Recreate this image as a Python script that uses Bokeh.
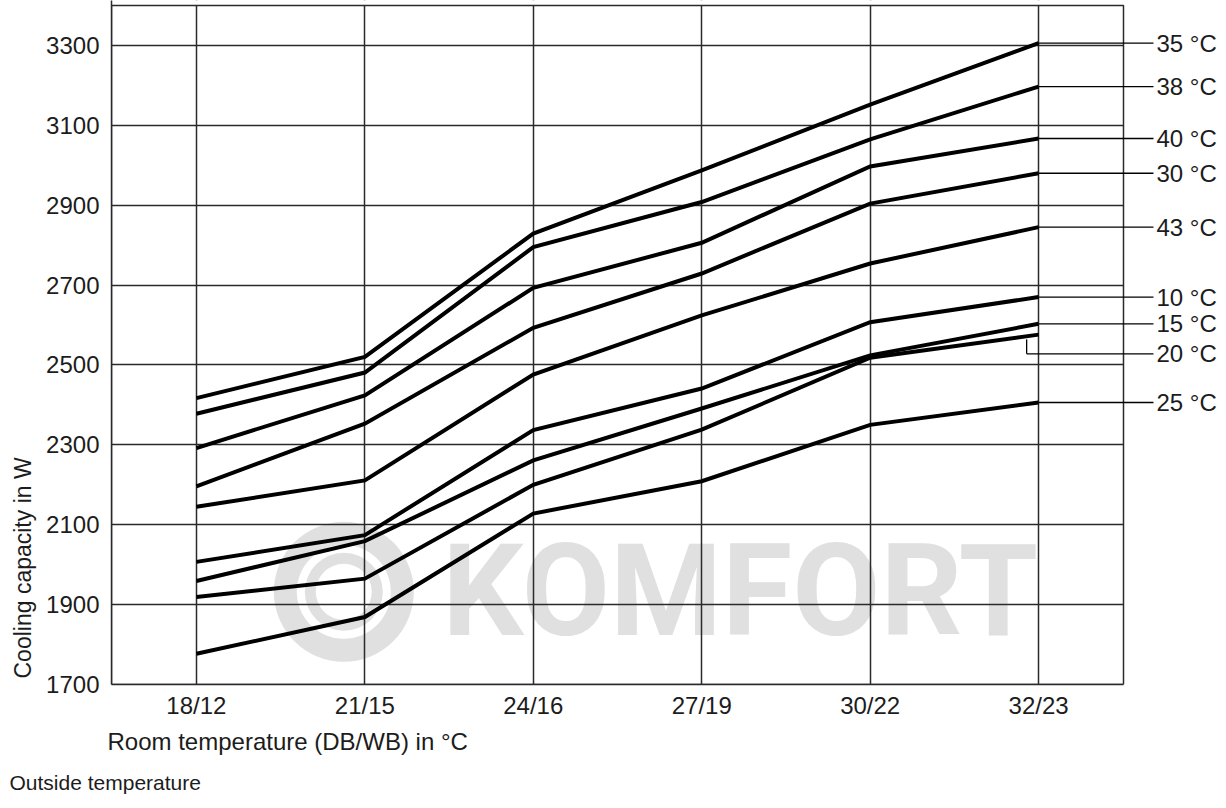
from bokeh.plotting import figure
from bokeh.models import Range1d, FixedTicker, Title, Label
from bokeh.core.properties import value
from bokeh.embed import file_html
from bokeh.resources import INLINE

# ---------------- data ----------------
CATEGORIES = ["18/12", "21/15", "24/16", "27/19", "30/22", "32/23"]
OUTSIDE_TEMPS = ["35 °C", "38 °C", "40 °C", "30 °C", "43 °C", "10 °C", "15 °C", "20 °C", "25 °C"]

CAP_35 = [2417, 2520, 2829, 2987, 3152, 3306]
CAP_38 = [2378, 2481, 2795, 2908, 3065, 3197]
CAP_40 = [2292, 2424, 2693, 2806, 2997, 3067]
CAP_30 = [2196, 2353, 2593, 2729, 2904, 2980]
CAP_43 = [2145, 2211, 2476, 2624, 2754, 2845]
CAP_10 = [2007, 2074, 2337, 2441, 2607, 2670]
CAP_15 = [1959, 2059, 2261, 2391, 2524, 2603]
CAP_20 = [1919, 1965, 2200, 2338, 2518, 2576]
CAP_25 = [1777, 1869, 2128, 2209, 2350, 2406]
SERIES = [CAP_35, CAP_38, CAP_40, CAP_30, CAP_43, CAP_10, CAP_15, CAP_20, CAP_25]

Y_TICKS = [1700, 1900, 2100, 2300, 2500, 2700, 2900, 3100, 3300]

X_TITLE = "Room temperature (DB/WB) in °C"
Y_TITLE = "Cooling capacity in W"
LEGEND_TITLE = "Outside temperature"

# ---------------- layout constants ----------------
X0, X1 = -0.504, 6.068          # frame extends right to hold the outside-temperature labels
BOX_RIGHT = 5.504
Y0, Y1 = 1700, 3412.5
BOX_TOP = 3400
LEADER_END = 5.682
LABEL_SHIFT = [0, 0, 0, 0, 0, 0, 0, -48, 0]   # label placed below the line end (bracket)
BRACKET_X = 4.929

FONT = "Liberation Sans"
TXT = "#1c1c1c"
GRID = "#2a2a2a"

p = figure(width=1218, height=806, x_range=Range1d(X0, X1), y_range=Range1d(Y0, Y1),
           output_backend="svg", toolbar_location=None,
           min_border_left=110, min_border_right=0, min_border_top=0, min_border_bottom=122)
p.outline_line_color = None
p.background_fill_color = "white"
p.border_fill_color = "white"

x_idx = list(range(len(CATEGORIES)))

# axes
p.xaxis.ticker = FixedTicker(ticks=x_idx)
p.xaxis.major_label_overrides = {i: c for i, c in enumerate(CATEGORIES)}
p.yaxis.ticker = FixedTicker(ticks=Y_TICKS)
p.xaxis.bounds = (X0, BOX_RIGHT)
for ax in (p.xaxis, p.yaxis):
    ax.major_tick_line_color = None
    ax.minor_tick_line_color = None
    ax.axis_line_color = GRID
    ax.axis_line_width = 1.5
    ax.major_label_text_font = FONT
    ax.major_label_text_font_size = "24px"
    ax.major_label_text_color = TXT
p.xaxis.major_label_standoff = 1
p.yaxis.major_label_standoff = 6

# axis titles (start-aligned, as in the reference)
x_title = Title(text=X_TITLE, align="left", offset=-4, text_font=FONT, text_font_size="24px",
                text_font_style="normal", text_color=TXT)
y_title = Title(text=Y_TITLE, align="left", offset=6, text_font=FONT, text_font_size="23px",
                text_font_style="normal", text_color=TXT)
outside = Title(text=LEGEND_TITLE, align="left", offset=-102, text_font=FONT,
                text_font_size="21px", text_font_style="normal", text_color=TXT,
                vertical_align="bottom")
for t, s in ((x_title, 8), (y_title, 15), (outside, 20)):
    try:
        t.standoff = s
    except Exception:
        pass
p.add_layout(x_title, "below")
p.add_layout(outside, "below")
p.add_layout(y_title, "left")

# grid
p.xgrid.ticker = FixedTicker(ticks=x_idx)
p.ygrid.ticker = FixedTicker(ticks=Y_TICKS)
for g in (p.xgrid, p.ygrid):
    g.grid_line_color = GRID
    g.grid_line_width = 1.5

# watermark (below grid)
p.annulus(x=[0.875], y=[1932], inner_radius=47, outer_radius=70,
          inner_radius_units="screen", outer_radius_units="screen",
          fill_color="#e0e0e0", line_color=None, level="image")
p.annulus(x=[0.875], y=[1932], inner_radius=28, outer_radius=39,
          inner_radius_units="screen", outer_radius_units="screen",
          fill_color="#e0e0e0", line_color=None, level="image")
p.add_layout(Label(x=1.46, y=1935, text="KOMFORT", text_font="Roboto", text_font_style="bold",
                   text_font_size="128px", text_color="#e0e0e0", text_baseline="middle",
                   level="image"))

# white area for labels, chart box
p.quad(left=[BOX_RIGHT], right=[X1], bottom=[Y0], top=[Y1], fill_color="white", line_color=None)
p.quad(left=[X0], right=[BOX_RIGHT], bottom=[BOX_TOP], top=[Y1], fill_color="white", line_color=None)
p.quad(left=[X0], right=[BOX_RIGHT], bottom=[Y0], top=[BOX_TOP], fill_color=None,
       line_color=GRID, line_width=1.5)

# series lines
for vals in SERIES:
    p.line(x=x_idx, y=vals, line_width=4, line_color="black", line_join="miter")

# leader lines and labels
ends = [s[-1] for s in SERIES]
label_y = [e + d for e, d in zip(ends, LABEL_SHIFT)]
starts = [x_idx[-1] if d == 0 else BRACKET_X for d in LABEL_SHIFT]
p.segment(x0=starts, y0=label_y, x1=[LEADER_END] * len(label_y), y1=label_y,
          line_color="black", line_width=1.3)
for e, d, ly in zip(ends, LABEL_SHIFT, label_y):
    if d != 0:
        p.segment(x0=[BRACKET_X], y0=[e - 12], x1=[BRACKET_X], y1=[ly],
                  line_color="black", line_width=1.3)
p.text(x=[LEADER_END] * len(label_y), y=label_y, text=OUTSIDE_TEMPS, x_offset=3,
       text_baseline="middle", text_align="left", text_font=value(FONT),
       text_font_size="24px", text_color=TXT)

open("out.html", "w").write(file_html(p, INLINE))
